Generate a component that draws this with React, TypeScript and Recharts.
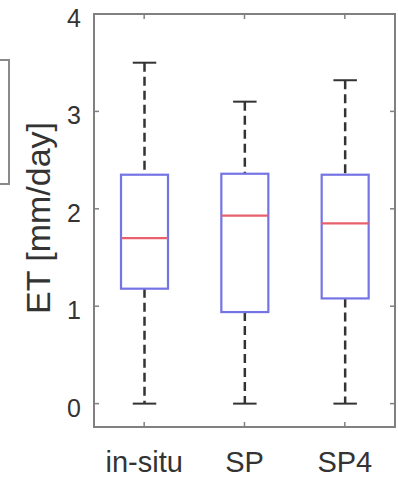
import { Bar, ComposedChart, XAxis, YAxis } from "recharts"

const categories = ["in-situ", "SP", "SP4"]
const minValues = [0, 0, 0]
const q1Values = [1.18, 0.94, 1.08]
const medianValues = [1.7, 1.93, 1.85]
const q3Values = [2.35, 2.36, 2.35]
const maxValues = [3.5, 3.1, 3.32]
const yTicks = [0, 1, 2, 3, 4]
const yDomain = [-0.24, 4]

const data = categories.map((name, i) => ({
  name,
  min: minValues[i],
  q1: q1Values[i],
  median: medianValues[i],
  q3: q3Values[i],
  max: maxValues[i],
  range: [minValues[i], maxValues[i]],
}))

const font = "'Liberation Sans', Arial, Helvetica, sans-serif"
const frame = "#808080"
// plot box edges (chart margins + axis sizes)
const plotTop = 14
const plotRight = 395
const plotLeft = 94
const plotBottom = 427

function BoxShape(props: any) {
  const { x, y, width, height, payload } = props
  const { min, q1, median, q3, max } = payload
  const py = (v: number) => y + ((max - v) / (max - min)) * height
  const cx = x + width / 2
  const cap = width / 4
  return (
    <g>
      <line x1={cx} x2={cx} y1={py(max)} y2={py(q3)} stroke="#333" strokeWidth={2.5} strokeDasharray="9 5" />
      <line x1={cx} x2={cx} y1={py(q1)} y2={py(min)} stroke="#333" strokeWidth={2.5} strokeDasharray="9 5" />
      <line x1={cx - cap} x2={cx + cap} y1={py(max)} y2={py(max)} stroke="#333" strokeWidth={2} />
      <line x1={cx - cap} x2={cx + cap} y1={py(min)} y2={py(min)} stroke="#333" strokeWidth={2} />
      <rect x={x} y={py(q3)} width={width} height={py(q1) - py(q3)} fill="none" stroke="#7474e4" strokeWidth={2.2} />
      <line x1={x} x2={x + width} y1={py(median)} y2={py(median)} stroke="#e8606c" strokeWidth={2.2} />
    </g>
  )
}

function LeftTick(props: any) {
  const { x, y, payload, index } = props
  return (
    <g>
      {index === 0 && (
        <g>
          <line x1={plotLeft} x2={plotRight} y1={plotTop} y2={plotTop} stroke={frame} strokeWidth={2} />
          <line x1={plotRight} x2={plotRight} y1={plotTop} y2={plotBottom} stroke={frame} strokeWidth={2} />
        </g>
      )}
      <line x1={plotRight - 5} x2={plotRight} y1={y} y2={y} stroke={frame} strokeWidth={1.5} />
      <text x={x} y={y} dy={13} textAnchor="end" fontSize={25} fill="#333" fontFamily={font}>
        {payload.value}
      </text>
    </g>
  )
}

function BottomTick(props: any) {
  const { x, y, payload } = props
  return (
    <g>
      <line x1={x} x2={x} y1={plotTop} y2={plotTop + 5} stroke={frame} strokeWidth={1.5} />
      <text x={x} y={y} dy={50} textAnchor="middle" fontSize={29} fill="#333" fontFamily={font}>
        {payload.value}
      </text>
    </g>
  )
}

function YLabel() {
  return (
    <text
      x={50}
      y={218}
      transform="rotate(-90, 50, 218)"
      textAnchor="middle"
      fontSize={34}
      fill="#333"
      fontFamily={font}
    >
      ET [mm/day]
    </text>
  )
}

export default function App() {
  return (
    <div style={{ position: "absolute", left: 0, top: 0, width: 398, height: 478, background: "#fff", overflow: "hidden" }}>
      <div
        style={{
          position: "absolute",
          left: -20,
          top: 59,
          width: 26,
          height: 122,
          border: "2px solid #8a8a8a",
        }}
      />
      <ComposedChart width={398} height={478} data={data} margin={{ top: plotTop, right: 398 - plotRight, bottom: 0, left: 0 }}>
        <XAxis
          dataKey="name"
          height={478 - plotBottom}
          tickSize={-5}
          tickMargin={0}
          tick={<BottomTick />}
          axisLine={{ stroke: frame, strokeWidth: 2 }}
          tickLine={{ stroke: frame, strokeWidth: 1.5 }}
        />
        <YAxis
          width={plotLeft}
          type="number"
          domain={yDomain}
          ticks={yTicks}
          allowDataOverflow
          tickSize={-5}
          tickMargin={18}
          tick={<LeftTick />}
          axisLine={{ stroke: frame, strokeWidth: 2 }}
          tickLine={{ stroke: frame, strokeWidth: 1.5 }}
          label={<YLabel />}
        />
        <Bar dataKey="range" barSize={47} shape={(p: any) => <BoxShape {...p} />} isAnimationActive={false} />
      </ComposedChart>
      <div
        style={{
          position: "absolute",
          zIndex: 5,
          left: plotLeft - 1,
          top: plotTop - 1,
          width: plotRight - plotLeft + 2,
          height: plotBottom - plotTop + 2,
          border: `2px solid ${frame}`,
          boxSizing: "border-box",
          pointerEvents: "none",
        }}
      />
    </div>
  )
}
